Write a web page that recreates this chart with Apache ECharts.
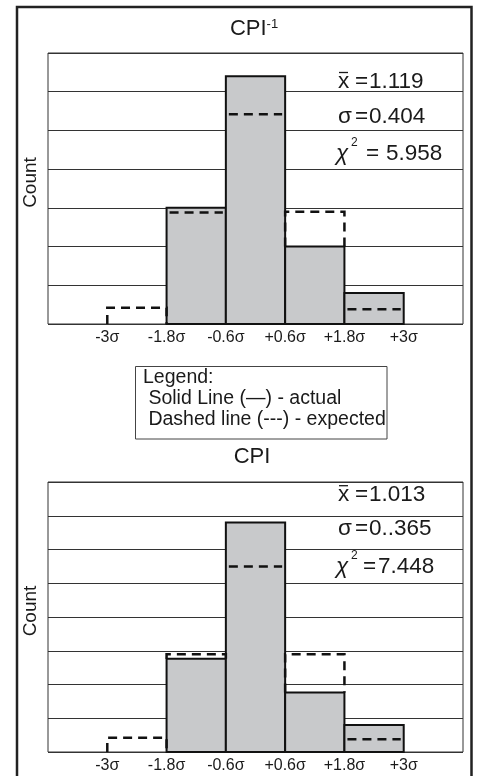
<!DOCTYPE html>
<html><head><meta charset="utf-8">
<script src="https://cdn.jsdelivr.net/npm/echarts@6/dist/echarts.min.js"></script>
<style>html,body{margin:0;padding:0;background:#fff}#c{width:477px;height:776px}</style>
</head><body><div id="c"></div>
<script>
// ---- data ----
const binEdges = [-3, -1.8, -0.6, 0.6, 1.8, 3];
const tickValues = [-3, -1.8, -0.6, 0.6, 1.8, 3];
const tickLabels = ['-3σ', '-1.8σ', '-0.6σ', '+0.6σ', '+1.8σ', '+3σ'];
const actualInv = [0, 15, 32, 10, 4];
const expectedInv = [2.1, 14.4, 27.1, 14.5, 1.9];
const actualCpi = [0, 13.8, 34, 8.8, 4];
const expectedCpi = [2.1, 14.5, 27.5, 14.5, 1.9];
const titleInv = 'CPI';
const titleCpi = 'CPI';
const statsInv = ['1.119', '0.404', '5.958'];
const statsCpi = ['1.013', '0..365', '7.448'];
const legendLines = ['Legend:', ' Solid Line (\u2014) - actual', ' Dashed line (---) - expected'];

const FONT = '"Liberation Sans", Arial, Helvetica, sans-serif';
const INK = '#1a1a1a';

function barData(act) {
  return act.map((v, i) => [binEdges[i], binEdges[i + 1], v]);
}
function expData(exp, act) {
  return exp.map((v, i) => [binEdges[i], binEdges[i + 1], v, act[i]]);
}
function renderBar(params, api) {
  const v = api.value(2);
  if (!v) return null;
  const p0 = api.coord([api.value(0), v]);
  const p1 = api.coord([api.value(1), 0]);
  return {
    type: 'rect',
    shape: { x: p0[0], y: p0[1], width: p1[0] - p0[0], height: p1[1] - p0[1] },
    style: { fill: '#c8c9cb', stroke: '#111', lineWidth: 2 }
  };
}
function renderExp(params, api) {
  const x0 = api.value(0), x1 = api.value(1), e = api.value(2), a = api.value(3);
  let pts;
  if (e > a) {
    pts = [api.coord([x0, a]), api.coord([x0, e]), api.coord([x1, e]), api.coord([x1, a])];
  } else {
    const p0 = api.coord([x0, e]), p1 = api.coord([x1, e]);
    pts = [[p0[0] + 3, p0[1]], [p1[0] - 3, p1[1]]];
  }
  return {
    type: 'polyline',
    shape: { points: pts },
    style: { fill: 'none', stroke: '#111', lineWidth: 2.5, lineDash: [9, 6] }
  };
}
function fmt(v) {
  for (let i = 0; i < tickValues.length; i++) if (Math.abs(v - tickValues[i]) < 1e-6) return tickLabels[i];
  return '';
}
function xAxisCfg(gi) {
  return {
    type: 'value', gridIndex: gi, min: -4.2, max: 4.2, interval: 0.6,
    axisLine: { show: false }, axisTick: { show: false }, splitLine: { show: false },
    axisLabel: { customValues: tickValues, formatter: fmt, color: INK, fontSize: 16, fontFamily: FONT, margin: 6 }
  };
}
function yAxisCfg(gi, max) {
  return {
    type: 'value', gridIndex: gi, min: 0, max: max, interval: 5,
    axisLine: { show: false }, axisTick: { show: false }, axisLabel: { show: false },
    splitLine: { show: true, lineStyle: { color: '#333', width: 1 } },
    name: 'Count', nameLocation: 'middle', nameGap: 8,
    nameTextStyle: { color: INK, fontSize: 19, fontFamily: FONT, padding: [0, 0, 0, 12] }
  };
}

function statTexts(rows, baseY, eqX3, valX3) {
  const els = [];
  const mid = b => b - 8;
  const t = (s, x, b, extra) => ({ type: 'text', style: Object.assign({ text: s, x: x, y: mid(b), verticalAlign: 'middle', fontSize: 22.5, fontFamily: FONT, fill: INK }, extra || {}) });
  els.push(t('x', 338, baseY[0]));
  els.push({ type: 'line', shape: { x1: 339, y1: baseY[0] - 17, x2: 348, y2: baseY[0] - 17 }, style: { stroke: INK, lineWidth: 1.3 } });
  els.push(t('=', 355, baseY[0]));
  els.push(t(rows[0], 369, baseY[0]));
  els.push(t('\u03c3', 338, baseY[1]));
  els.push(t('=', 355, baseY[1]));
  els.push(t(rows[1], 369, baseY[1]));
  els.push(t('\u03c7', 336, baseY[2], { fontStyle: 'italic' }));
  els.push({ type: 'text', style: { text: '2', x: 351, y: baseY[2] - 19, verticalAlign: 'middle', fontSize: 12, fontFamily: FONT, fill: INK } });
  els.push(t('=', eqX3, baseY[2]));
  els.push(t(rows[2], valX3, baseY[2]));
  return els;
}

const graphic = [
  { type: 'rect', shape: { x: 17, y: 7, width: 454.5, height: 820 }, style: { fill: 'none', stroke: '#222', lineWidth: 2.5 }, z: 10 },
  { type: 'text', style: { text: '{a|' + titleInv + '}{b|-1}', x: 254, y: 29, align: 'center', verticalAlign: 'middle',
      rich: { a: { fontSize: 22, fontFamily: FONT, fill: INK }, b: { fontSize: 13, fontFamily: FONT, fill: INK, verticalAlign: 'top' } } } },
  { type: 'text', style: { text: titleCpi, x: 252, y: 457, align: 'center', verticalAlign: 'middle', fontSize: 22, fontFamily: FONT, fill: INK } },
  { type: 'rect', shape: { x: 135.5, y: 366.5, width: 251.5, height: 72.5 }, style: { fill: '#fff', stroke: '#444', lineWidth: 1 } },
  { type: 'text', style: { text: legendLines[0], x: 143, y: 378, verticalAlign: 'middle', fontSize: 19.5, fontFamily: FONT, fill: INK } },
  { type: 'text', style: { text: legendLines[1], x: 143, y: 399, verticalAlign: 'middle', fontSize: 19.5, fontFamily: FONT, fill: INK } },
  { type: 'text', style: { text: legendLines[2], x: 143, y: 420, verticalAlign: 'middle', fontSize: 19.5, fontFamily: FONT, fill: INK } }
].concat(statTexts(statsInv, [89.5, 125, 161.7], 366, 386))
 .concat(statTexts(statsCpi, [502.7, 536.7, 574.3], 363, 378));

const chart = echarts.init(document.getElementById('c'), null, { renderer: 'canvas' });
chart.setOption({
  animation: false,
  backgroundColor: '#fff',
  grid: [
    { left: 48, top: 53, width: 415, height: 271, show: true, borderColor: '#333', borderWidth: 1, backgroundColor: 'transparent' },
    { left: 48, top: 482, width: 415, height: 270, show: true, borderColor: '#333', borderWidth: 1, backgroundColor: 'transparent' }
  ],
  xAxis: [xAxisCfg(0), xAxisCfg(1)],
  yAxis: [yAxisCfg(0, 35), yAxisCfg(1, 40)],
  series: [
    { type: 'custom', name: 'actual', xAxisIndex: 0, yAxisIndex: 0, renderItem: renderBar, data: barData(actualInv), encode: { x: [0, 1], y: 2 }, z: 2 },
    { type: 'custom', name: 'expected', xAxisIndex: 0, yAxisIndex: 0, renderItem: renderExp, data: expData(expectedInv, actualInv), encode: { x: [0, 1], y: 2 }, z: 3 },
    { type: 'custom', name: 'actual', xAxisIndex: 1, yAxisIndex: 1, renderItem: renderBar, data: barData(actualCpi), encode: { x: [0, 1], y: 2 }, z: 2 },
    { type: 'custom', name: 'expected', xAxisIndex: 1, yAxisIndex: 1, renderItem: renderExp, data: expData(expectedCpi, actualCpi), encode: { x: [0, 1], y: 2 }, z: 3 }
  ],
  graphic: graphic
});
</script>
</body></html>
